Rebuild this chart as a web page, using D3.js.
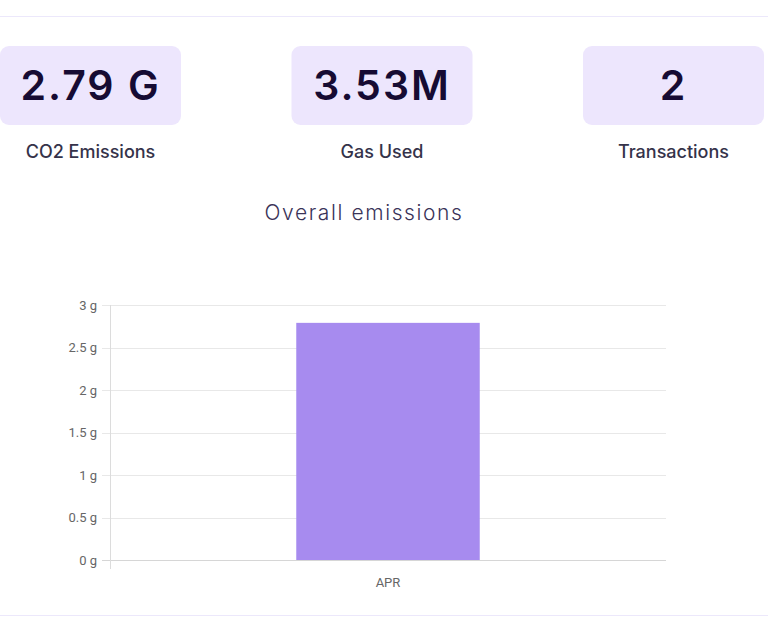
<!DOCTYPE html>
<html><head><meta charset="utf-8">
<script src="https://cdn.jsdelivr.net/npm/d3@7"></script>
<style>html,body{margin:0;padding:0;background:#fff;}svg{display:block;}</style>
</head><body>
<svg id="c" width="768" height="633"></svg>
<script>
const statValues = ["2.79 G", "3.53M", "2"];
const statLabels = ["CO2 Emissions", "Gas Used", "Transactions"];
const categories = ["APR"];
const emissions = [2.79];
const yTicks = [0, 0.5, 1, 1.5, 2, 2.5, 3];
const chartTitle = "Overall emissions";

(function(){
const svg = d3.select("#c");
const W = 768;

svg.append("line").attr("x1",0).attr("x2",W).attr("y1",16.5).attr("y2",16.5).attr("stroke","#ece8fb").attr("stroke-width",1);
svg.append("line").attr("x1",0).attr("x2",W).attr("y1",615.5).attr("y2",615.5).attr("stroke","#ece8fb").attr("stroke-width",1);

const cardX = d3.scalePoint().domain(d3.range(statValues.length)).range([90.5, 673.5]);
const cards = svg.selectAll("g.card").data(statValues).join("g").attr("class","card")
  .attr("transform",(d,i)=>`translate(${cardX(i)},0)`);
cards.append("rect").attr("x",-90.5).attr("y",46).attr("width",181).attr("height",79).attr("rx",9).attr("fill","#ede6fd");
cards.append("text").attr("x",0).attr("y",100).attr("text-anchor","middle")
  .attr("font-family","Inter, sans-serif").attr("font-weight",600).attr("font-size",41)
  .attr("letter-spacing","2px")
  .attr("fill","#160b33").text(d=>d);
cards.append("text").attr("x",0).attr("y",158).attr("text-anchor","middle")
  .attr("font-family","Inter, sans-serif").attr("font-weight",500).attr("font-size",18)
  .attr("fill","#35334a").text((d,i)=>statLabels[i]);

svg.append("text").attr("x",364).attr("y",220).attr("text-anchor","middle")
  .attr("font-family","Inter, sans-serif").attr("font-weight",300).attr("font-size",21)
  .attr("letter-spacing","1.6px")
  .attr("fill","#3a3358").text(chartTitle);

const pL = 110, pR = 666, pT = 305, pB = 560;
const y = d3.scaleLinear().domain([0,3]).range([pB, pT]);
const x = d3.scaleBand().domain(categories).range([pL, pR]).padding(0);
const barFrac = 0.33;

const g = svg.append("g");
g.selectAll("line.grid").data(yTicks).join("line").attr("class","grid")
  .attr("x1",pL - 8).attr("x2",pR).attr("y1",d=>Math.round(y(d))+0.5).attr("y2",d=>Math.round(y(d))+0.5)
  .attr("stroke",d=>d===0?"#d6d6d6":"#e8e8e8").attr("stroke-width",1);
g.append("line").attr("x1",pL+0.5).attr("x2",pL+0.5).attr("y1",pT).attr("y2",pB+9)
  .attr("stroke","#dcdcdc");
g.selectAll("text.yl").data(yTicks).join("text").attr("class","yl")
  .attr("x",pL-13).attr("y",d=>y(d)+4.5).attr("text-anchor","end")
  .attr("font-family","Roboto, sans-serif").attr("font-size",13).attr("fill","#666")
  .text(d=>d + " g");
g.selectAll("rect.bar").data(emissions).join("rect").attr("class","bar")
  .attr("x",(d,i)=>x(categories[i]) + x.bandwidth()*(1-barFrac)/2)
  .attr("width",x.bandwidth()*barFrac)
  .attr("y",d=>y(d)).attr("height",d=>pB - y(d))
  .attr("fill","#a78bef");
g.selectAll("text.xl").data(categories).join("text").attr("class","xl")
  .attr("x",d=>x(d)+x.bandwidth()/2).attr("y",pB+27).attr("text-anchor","middle")
  .attr("font-family","Roboto, sans-serif").attr("font-size",13).attr("fill","#666").text(d=>d);
})();
</script>
</body></html>
